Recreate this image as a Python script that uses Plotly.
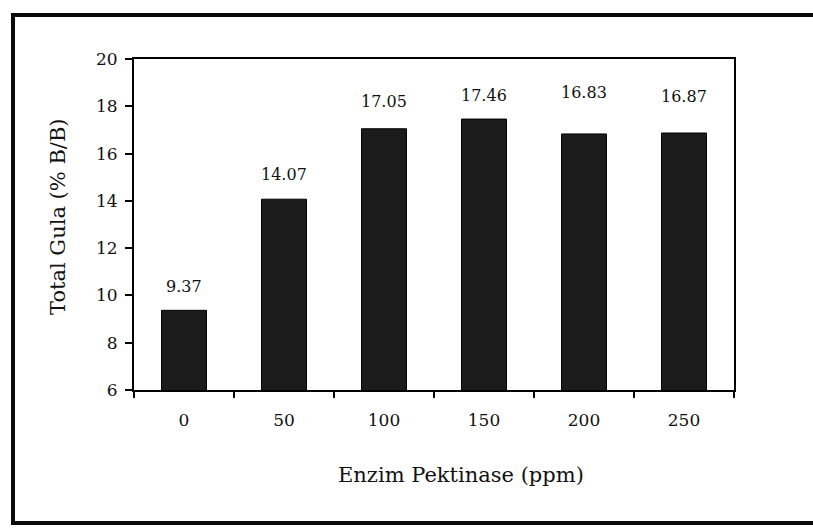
import plotly.graph_objects as go

categories = ["0", "50", "100", "150", "200", "250"]
total_gula = [9.37, 14.07, 17.05, 17.46, 16.83, 16.87]
y_ticks = [6, 8, 10, 12, 14, 16, 18, 20]
x_title = "Enzim Pektinase (ppm)"
y_title = "Total Gula (% B/B)"

# label vertical offsets (px, centre above bar top) - style only
label_shift = [24, 25, 27, 24, 41, 37]

W, H = 813, 531
L, R, T, B = 134, 79, 59, 141
pw = W - L - R
ph = H - T - B

FONT = "DejaVu Serif"
INK = "#111111"

fig = go.Figure()
fig.add_trace(go.Bar(
    x=categories, y=total_gula,
    marker=dict(color="#1b1b1b", line=dict(color="#000000", width=1)),
    width=0.45, hoverinfo="x+y",
))

for i, (v, s) in enumerate(zip(total_gula, label_shift)):
    fig.add_annotation(x=i, y=v, text=f"{v:.2f}", showarrow=False,
                       yanchor="middle", xanchor="center", yshift=s,
                       font=dict(family=FONT, size=16, color=INK))

def px_x(p):
    return (p - L) / pw

def px_y(p):
    return (H - B - p) / ph

# axis titles as annotations
fig.add_annotation(x=px_x(461), y=px_y(475), xref="paper", yref="paper",
                   text=x_title, showarrow=False, xanchor="center", yanchor="middle",
                   font=dict(family=FONT, size=21, color=INK))
fig.add_annotation(x=px_x(58), y=px_y(217), xref="paper", yref="paper",
                   text=y_title, showarrow=False, textangle=-90,
                   xanchor="center", yanchor="middle",
                   font=dict(family=FONT, size=21, color=INK))

# outer frame
fig.add_shape(type="rect", xref="paper", yref="paper",
              x0=px_x(13), x1=px_x(830), y0=px_y(523), y1=px_y(15),
              line=dict(color="#0a0a0a", width=4), layer="below")

fig.update_layout(
    width=W, height=H,
    margin=dict(l=L, r=R, t=T, b=B),
    paper_bgcolor="white", plot_bgcolor="white",
    showlegend=False,
    font=dict(family=FONT, size=16, color=INK),
    xaxis=dict(
        type="category", range=[-0.5, 5.5],
        showline=True, linecolor="black", linewidth=2, mirror=True,
        ticks="outside", tickson="boundaries", ticklen=6, tickwidth=2, tickcolor="black",
        ticklabelstandoff=14, showgrid=False, zeroline=False,
        tickfont=dict(family=FONT, size=17, color=INK),
    ),
    yaxis=dict(
        range=[6, 20], tickvals=y_ticks,
        showline=True, linecolor="black", linewidth=2, mirror=True,
        ticks="outside", ticklen=7, tickwidth=2, tickcolor="black",
        ticklabelstandoff=4, showgrid=False, zeroline=False,
        tickfont=dict(family=FONT, size=17, color=INK),
    ),
)

fig.write_html("out.html")
